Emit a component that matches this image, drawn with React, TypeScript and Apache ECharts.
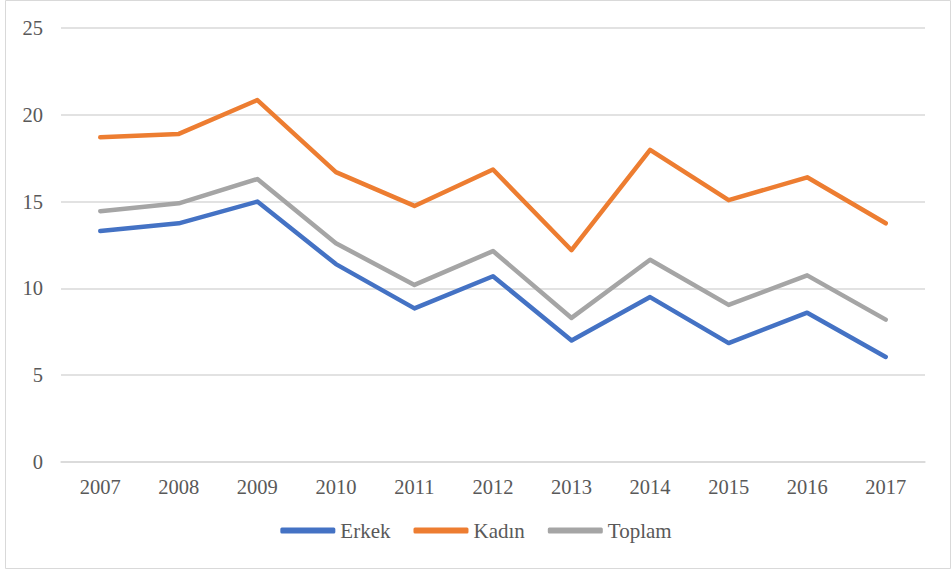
import React, { useEffect, useRef } from "react";
import * as echarts from "echarts";

const years = ["2007", "2008", "2009", "2010", "2011", "2012", "2013", "2014", "2015", "2016", "2017"];
const erkek = [13.3, 13.75, 15.0, 11.4, 8.85, 10.7, 7.0, 9.5, 6.85, 8.6, 6.05];
const kadin = [18.7, 18.9, 20.85, 16.7, 14.75, 16.85, 12.2, 17.98, 15.08, 16.4, 13.75];
const toplam = [14.45, 14.9, 16.3, 12.6, 10.2, 12.15, 8.3, 11.65, 9.05, 10.75, 8.2];

const FONT = "Liberation Serif";

export default function App() {
  const ref = useRef<HTMLDivElement>(null);
  useEffect(() => {
    const chart = echarts.init(ref.current!, undefined, { renderer: "svg" });
    const mk = (name: string, data: number[], color: string) => ({
      name,
      type: "line",
      data,
      symbol: "none",
      lineStyle: { width: 4.5, color, cap: "round", join: "round" },
      itemStyle: { color },
    });
    chart.setOption({
      animation: false,
      backgroundColor: "#ffffff",
      textStyle: { fontFamily: FONT },
      graphic: [
        {
          type: "rect",
          shape: { x: 5.5, y: 0.5, width: 945, height: 568 },
          style: { fill: "none", stroke: "#d9d9d9", lineWidth: 1 },
          silent: true,
        },
      ],
      grid: { left: 61, right: 27, top: 28, bottom: 110, containLabel: false },
      xAxis: {
        type: "category",
        data: years,
        boundaryGap: true,
        axisLine: { show: true, lineStyle: { color: "#d9d9d9", width: 1.5 } },
        axisTick: { show: false },
        axisLabel: { color: "#595959", fontSize: 20.5, fontFamily: FONT, margin: 14 },
      },
      yAxis: {
        type: "value",
        min: 0,
        max: 25,
        interval: 5,
        axisLine: { show: false },
        axisTick: { show: false },
        splitLine: { lineStyle: { color: "#d9d9d9", width: 1.5 } },
        axisLabel: { color: "#595959", fontSize: 20.5, fontFamily: FONT, margin: 18 },
      },
      legend: {
        bottom: 26,
        left: "center",
        icon: "roundRect",
        itemWidth: 55,
        itemHeight: 6,
        itemGap: 23,
        textStyle: {
          color: "#595959",
          fontSize: 21,
          fontFamily: FONT,
          fontWeight: "normal",
        },
        data: ["Erkek", "Kadın", "Toplam"],
      },
      series: [
        mk("Erkek", erkek, "#4472C4"),
        mk("Kadın", kadin, "#ED7D31"),
        mk("Toplam", toplam, "#A5A5A5"),
      ],
    });
    return () => chart.dispose();
  }, []);
  return (
    <div
      ref={ref}
      style={{ position: "fixed", left: 0, top: 0, width: 952, height: 572 }}
    />
  );
}
